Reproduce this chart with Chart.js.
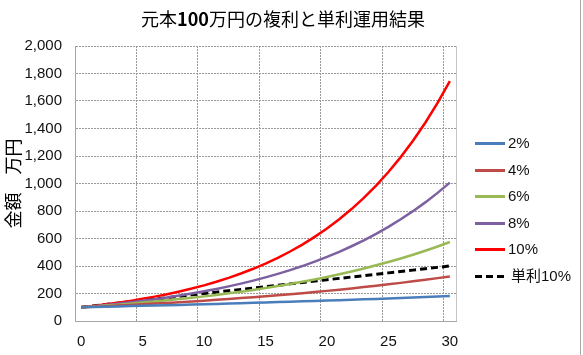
<!DOCTYPE html>
<html><head><meta charset="utf-8">
<script src="https://cdn.jsdelivr.net/npm/chart.js@4/dist/chart.umd.min.js"></script>
<style>
html,body{margin:0;padding:0;background:#fff;}
#wrap{position:relative;width:583px;height:355px;overflow:hidden;background:#fff;}
#c{position:absolute;left:0;top:0;}
#title{position:absolute;left:0;width:566px;top:5px;text-align:center;font-family:"Noto Sans CJK JP";font-size:18px;color:#000;white-space:nowrap;}
#frame{position:absolute;left:580px;top:0;width:1px;height:355px;background:#a8a8a8;}
.lg{position:absolute;left:475px;height:20px;white-space:nowrap;}
.lg .ln{position:absolute;left:0;top:9px;width:30px;height:3px;}
.lg .tx{position:absolute;left:33px;top:0;font-family:"Liberation Sans","Noto Sans CJK JP";font-size:15px;line-height:20px;color:#111;}
</style>
</head><body>
<div id="wrap">
<canvas id="c" width="583" height="355"></canvas>
<div id="title">元本<b>100</b>万円の複利と単利運用結果</div>
<div id="frame"></div>
<div id="legend"></div>
</div>
<script>
// ---- data ----
const years = ['0','1','2','3','4','5','6','7','8','9','10','11','12','13','14','15','16','17','18','19','20','21','22','23','24','25','26','27','28','29','30'];
const seriesNames = ['2%','4%','6%','8%','10%','単利10%'];
const rate2 = [100,102,104.04,106.12,108.24,110.41,112.62,114.87,117.17,119.51,121.9,124.34,126.82,129.36,131.95,134.59,137.28,140.02,142.82,145.68,148.59,151.57,154.6,157.69,160.84,164.06,167.34,170.69,174.1,177.58,181.14];
const rate4 = [100,104,108.16,112.49,116.99,121.67,126.53,131.59,136.86,142.33,148.02,153.95,160.1,166.51,173.17,180.09,187.3,194.79,202.58,210.68,219.11,227.88,236.99,246.47,256.33,266.58,277.25,288.34,299.87,311.87,324.34];
const rate6 = [100,106,112.36,119.1,126.25,133.82,141.85,150.36,159.38,168.95,179.08,189.83,201.22,213.29,226.09,239.66,254.04,269.28,285.43,302.56,320.71,339.96,360.35,381.97,404.89,429.19,454.94,482.23,511.17,541.84,574.35];
const rate8 = [100,108,116.64,125.97,136.05,146.93,158.69,171.38,185.09,199.9,215.89,233.16,251.82,271.96,293.72,317.22,342.59,370,399.6,431.57,466.1,503.38,543.65,587.15,634.12,684.85,739.64,798.81,862.71,931.73,1006.27];
const rate10 = [100,110,121,133.1,146.41,161.05,177.16,194.87,214.36,235.79,259.37,285.31,313.84,345.23,379.75,417.72,459.5,505.45,556,611.59,672.75,740.02,814.03,895.43,984.97,1083.47,1191.82,1311,1442.1,1586.31,1744.94];
const simple10 = [100,110,120,130,140,150,160,170,180,190,200,210,220,230,240,250,260,270,280,290,300,310,320,330,340,350,360,370,380,390,400];
const yTickStep = 200, yMax = 2000;

// ---- styles ----
const seriesData = [rate2, rate4, rate6, rate8, rate10, simple10];
const seriesColors = ['#4a7ebb','#be4b48','#98b954','#7d60a0','#ff0000','#000000'];
const seriesDash = [[],[],[],[],[],[7,4]];
const gridColor = '#9a9a9a';

const datasets = seriesNames.map((n,i)=>({
  label:n, data:seriesData[i], borderColor:seriesColors[i], backgroundColor:seriesColors[i],
  borderWidth: i===5 ? 3 : 2.5, borderDash: seriesDash[i], pointRadius:0, fill:false, tension:0
}));

const rightBorder = {
  id:'rightBorder',
  beforeDatasetsDraw(chart){
    const {ctx, chartArea:a} = chart;
    ctx.save(); ctx.strokeStyle='#c4c4c4'; ctx.lineWidth=1;
    ctx.beginPath(); ctx.moveTo(Math.round(a.right)+0.5, a.top); ctx.lineTo(Math.round(a.right)+0.5, a.bottom); ctx.stroke();
    ctx.restore();
  }
};

new Chart(document.getElementById('c'), {
  type:'line',
  data:{labels:years, datasets},
  plugins:[rightBorder],
  options:{
    responsive:false, animation:false, devicePixelRatio:1,
    layout:{padding:{top:46,right:127,bottom:0,left:0}},
    plugins:{legend:{display:false}, title:{display:false}, tooltip:{enabled:false}},
    scales:{
      x:{
        type:'category', offset:true,
        grid:{offset:true, drawTicks:false, lineWidth:1,
          color:c=> (c.index%5===0 && c.index>0 && c.index<years.length) ? gridColor : 'rgba(0,0,0,0)'},
        border:{display:true, color:'#a6a6a6', width:1, dash:[2,1]},
        ticks:{autoSkip:false, maxRotation:0, minRotation:0, padding:12, color:'#111',
          font:{family:'Liberation Sans', size:15},
          callback:(v,i)=> i%5===0 ? years[i] : ''},
        afterFit:s=>{s.height=34;}
      },
      y:{
        min:0, max:yMax,
        ticks:{stepSize:yTickStep, padding:13, color:'#111', font:{family:'Liberation Sans', size:15},
          callback:v=> Number(v).toLocaleString('en-US')},
        grid:{drawTicks:false, lineWidth:1, color:c=> c.index===0 ? 'rgba(0,0,0,0)' : gridColor},
        border:{display:true, color:'#a6a6a6', width:1, dash:[2,1]},
        title:{display:true, text:'金額　万円', color:'#000', font:{family:'Noto Sans CJK JP', size:18}, padding:{top:2,bottom:0}},
        afterFit:s=>{s.width=75;}
      }
    }
  }
});

// HTML legend
const lg = document.getElementById('legend');
seriesNames.forEach((n,i)=>{
  const d=document.createElement('div'); d.className='lg'; d.style.top=(133+i*26.5)+'px';
  const ln=document.createElement('div'); ln.className='ln';
  if(seriesDash[i].length){ ln.style.background='repeating-linear-gradient(to right,'+seriesColors[i]+' 0 7px, transparent 7px 11px)'; ln.style.width='29px'; }
  else ln.style.background=seriesColors[i];
  const tx=document.createElement('div'); tx.className='tx'; tx.textContent = seriesDash[i].length ? ' '+n : n;
  if(seriesDash[i].length) tx.style.left='36px';
  d.appendChild(ln); d.appendChild(tx); lg.appendChild(d);
});
</script>
</body></html>
